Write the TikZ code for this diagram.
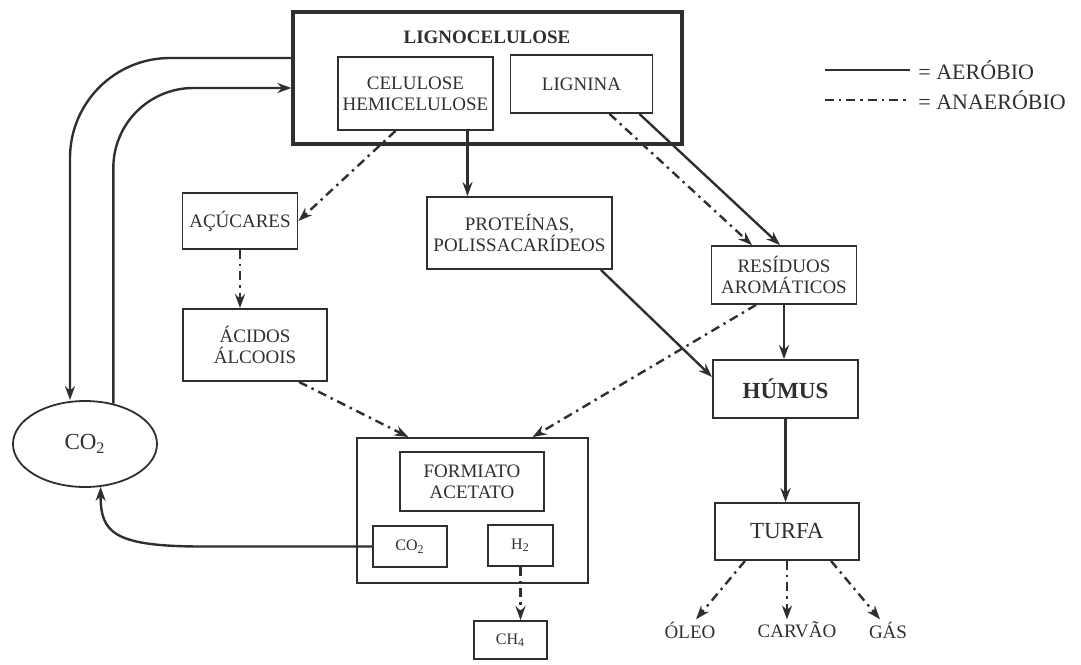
\documentclass[tikz,border=0pt]{standalone}
\usepackage{fontspec}
\setmainfont{Liberation Serif}
\usetikzlibrary{arrows.meta, positioning, shapes.geometric}
\definecolor{tinta}{RGB}{50,46,44}
\tikzset{
  box/.style={
    draw=tinta,
    line width=0.9pt,
    rectangle,
    align=center,
    text=tinta,
    inner sep=2pt,
    font=\fontsize{9.5}{10.5}\selectfont,
  },
  bigbox/.style={
    box,
    line width=1.6pt
  },
  smallbox/.style={
    box,
    font=\fontsize{8}{9}\selectfont
  },
  rotulo/.style={
    text=tinta,
    inner sep=1pt,
    font=\fontsize{9.5}{10.5}\selectfont
  },
  aerob/.style={
    draw=tinta,
    line width=1.2pt,
    -{Stealth[length=7pt,width=5pt]}
  },
  anaerob/.style={
    draw=tinta,
    line width=1.2pt,
    dash pattern=on 4.5pt off 2.5pt on 1.2pt off 2.5pt,
    -{Stealth[length=7pt,width=5pt]}
  }
}

\begin{document}
\begin{tikzpicture}[x=0.5pt, y=-0.5pt]
\useasboundingbox (0,0) rectangle (1081,664);

% Lignocelulose
\node[bigbox, minimum width=194.5pt, minimum height=66pt] (ligno) at (487.5,78) {};
\node[rotulo, font=\fontsize{9.5}{10.5}\selectfont\bfseries] (lignotitle) at (487,37) {LIGNOCELULOSE};
\node[box, minimum width=77.5pt, minimum height=36.5pt] (celu) at (415.5,93.5) {CELULOSE\\HEMICELULOSE};
\node[box, minimum width=71pt, minimum height=29pt] (lign) at (581.5,84) {LIGNINA};

% legenda
\coordinate (aer1) at (825,70);
\coordinate (aer2) at (910,70);
\coordinate (ana1) at (825,100);
\coordinate (ana2) at (910,100);
\draw[aerob, -] (aer1) -- (aer2);
\draw[anaerob, -] (ana1) -- (ana2);
\node[rotulo, anchor=west, font=\fontsize{11}{12}\selectfont] (aertxt) at (916,70) {= AERÓBIO};
\node[rotulo, anchor=west, font=\fontsize{11}{12}\selectfont] (anatxt) at (916,100) {= ANAERÓBIO};

% produtos intermediarios
\node[box, minimum width=57.5pt, minimum height=28pt] (acuc) at (240,221) {AÇÚCARES};
\node[box, minimum width=92.5pt, minimum height=36pt] (prot) at (519.5,233) {PROTEÍNAS,\\POLISSACARÍDEOS};
\node[box, minimum width=72.5pt, minimum height=29pt] (resid) at (784,275) {RESÍDUOS\\AROMÁTICOS};
\node[box, minimum width=72pt, minimum height=36pt] (acid) at (255,345) {ÁCIDOS\\ÁLCOOIS};
\node[box, minimum width=72.5pt, minimum height=29pt, font=\fontsize{11.5}{12}\selectfont\bfseries] (humus) at (785.5,389) {HÚMUS};
\node[box, minimum width=72pt, minimum height=28.5pt, font=\fontsize{11.5}{12}\selectfont] (turfa) at (787,531.5) {TURFA};
\node[rotulo] (oleo) at (690,630) {ÓLEO};
\node[rotulo] (carvao) at (797,630) {CARVÃO};
\node[rotulo] (gas) at (888,630) {GÁS};

% CO2
\node[draw=tinta, line width=0.9pt, ellipse, minimum width=72pt, minimum height=43pt, inner sep=0pt, text=tinta, font=\fontsize{11.5}{12}\selectfont] (co2) at (85,444) {CO\textsubscript{2}};

% fermentacao
\node[box, minimum width=115.5pt, minimum height=72.5pt] (ferm) at (472.5,510.5) {};
\node[box, minimum width=72pt, minimum height=29.5pt] (form) at (472,481.5) {FORMIATO\\ACETATO};
\node[smallbox, minimum width=37pt, minimum height=20.5pt] (co2s) at (410,546.5) {CO\textsubscript{2}};
\node[smallbox, minimum width=32.5pt, minimum height=20.5pt] (h2) at (520.5,545.5) {H\textsubscript{2}};
\node[smallbox, minimum width=36.5pt, minimum height=19pt] (ch4) at (510.5,640) {CH\textsubscript{4}};

% ciclo do CO2
\draw[aerob, rounded corners=50pt] ([yshift=10pt]ligno.west) -| ([xshift=-7.5pt]co2.north);
\draw[aerob, rounded corners=40pt] (co2.55) |- ([yshift=-5pt]ligno.west);
\draw[aerob] (co2s.west) -- ++(-170,0) .. controls +(-90,0) and +(0,45) .. (co2.-70);

% aerobio
\draw[aerob] ([xshift=26pt]celu.south) -- ([xshift=26pt]celu.south |- prot.north);
\draw[aerob] ([xshift=-7pt]lign.south east) -- ([xshift=-2pt]resid.north);
\draw[aerob] ([xshift=-6pt]prot.south east) -- ([yshift=6pt]humus.west);
\draw[aerob] (resid.south) -- (resid.south |- humus.north);
\draw[aerob] (humus.south) -- (humus.south |- turfa.north);

% anaerobio
\draw[anaerob] ([xshift=-10pt]celu.south) -- (acuc.east);
\draw[anaerob] ([xshift=14pt]lign.south) -- ([xshift=-16pt]resid.north);
\draw[anaerob] (acuc.south) -- (acuc.south |- acid.north);
\draw[anaerob] ([xshift=22pt]acid.south) -- ([xshift=-32pt]ferm.north);
\draw[anaerob] ([xshift=-14pt]resid.south) -- ([xshift=30pt]ferm.north);
\draw[anaerob] (h2.south) -- (h2.south |- ch4.north);
\draw[anaerob] ([xshift=-21pt]turfa.south) -- ([xshift=3pt]oleo.north);
\draw[anaerob] (turfa.south) -- (turfa.south |- carvao.north);
\draw[anaerob] ([xshift=22pt]turfa.south) -- ([xshift=-4pt]gas.north);

\end{tikzpicture}
\end{document}
